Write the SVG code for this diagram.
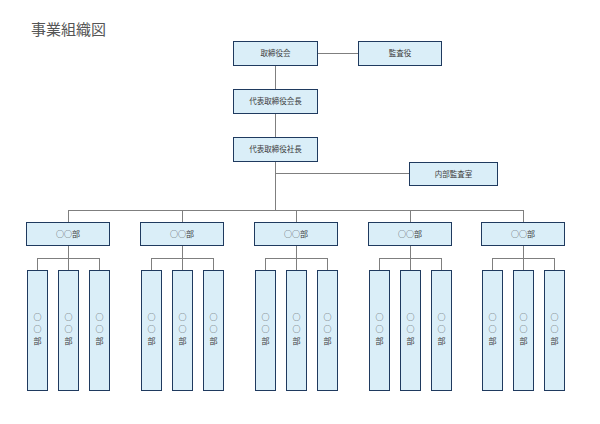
<svg xmlns="http://www.w3.org/2000/svg" width="600" height="424" viewBox="0 0 600 424">
<style>
.b{fill:#DAEEF8;stroke:#1F3A5F;stroke-width:1}
.t{font-family:"Noto Sans CJK JP","Noto Sans",sans-serif;font-size:7.5px;fill:#404040;text-anchor:middle}
.c{font-family:"Noto Sans CJK JP","Noto Sans",sans-serif;font-size:8px;fill:#404040;text-anchor:middle}
.ln{stroke:#7F7F7F;stroke-width:1;fill:none}
</style>
<rect width="600" height="424" fill="#fff"/>
<text x="31" y="35" font-family="'Noto Sans CJK JP',sans-serif" font-size="15" fill="#555">事業組織図</text>
<g id="connectors" class="ln">
<path d="M317 53.5H358M275.5 65V89M275.5 113V137M275.5 162V210M275.5 173.5H409M68 210.5H523.5"/>
<path d="M68.5 210V222M68.5 245V258M37.5 258.5H99.5M37.5 258V270M68.5 258V270M99.5 258V270"/>
<path d="M182.5 210V222M182.5 245V258M151.5 258.5H213.5M151.5 258V270M182.5 258V270M213.5 258V270"/>
<path d="M296.5 210V222M296.5 245V258M265.5 258.5H327.5M265.5 258V270M296.5 258V270M327.5 258V270"/>
<path d="M410.5 210V222M410.5 245V258M379.5 258.5H441.5M379.5 258V270M410.5 258V270M441.5 258V270"/>
<path d="M523.5 210V222M523.5 245V258M492.5 258.5H554.5M492.5 258V270M523.5 258V270M554.5 258V270"/>
</g>
<g id="board"><rect class="b" x="233.5" y="41.5" width="84" height="24"/><text class="t" x="275.5" y="56">取締役会</text></g>
<g id="auditor"><rect class="b" x="358.5" y="41.5" width="83" height="24"/><text class="t" x="400" y="56">監査役</text></g>
<g id="chairman"><rect class="b" x="233.5" y="89.5" width="84" height="24"/><text class="t" x="275.5" y="104">代表取締役会長</text></g>
<g id="president"><rect class="b" x="233.5" y="137.5" width="84" height="24"/><text class="t" x="275.5" y="152">代表取締役社長</text></g>
<g id="internal-audit"><rect class="b" x="409.5" y="162.5" width="88" height="23"/><text class="t" x="453.5" y="177">内部監査室</text></g>
<g id="dept1"><rect class="b" x="26.5" y="222.5" width="83" height="23"/><text class="c" x="68" y="237">○○部</text></g>
<g id="dept2"><rect class="b" x="140.5" y="222.5" width="83" height="23"/><text class="c" x="182" y="237">○○部</text></g>
<g id="dept3"><rect class="b" x="254.5" y="222.5" width="83" height="23"/><text class="c" x="296" y="237">○○部</text></g>
<g id="dept4"><rect class="b" x="368.5" y="222.5" width="83" height="23"/><text class="c" x="410" y="237">○○部</text></g>
<g id="dept5"><rect class="b" x="481.5" y="222.5" width="83" height="23"/><text class="c" x="523" y="237">○○部</text></g>
<g id="d1s1"><rect class="b" x="27.5" y="270.5" width="20" height="120"/><text class="c" x="37.5" y="320">○<tspan x="37.5" dy="12">○</tspan><tspan x="37.5" dy="12">部</tspan></text></g>
<g id="d1s2"><rect class="b" x="58.5" y="270.5" width="20" height="120"/><text class="c" x="68.5" y="320">○<tspan x="68.5" dy="12">○</tspan><tspan x="68.5" dy="12">部</tspan></text></g>
<g id="d1s3"><rect class="b" x="89.5" y="270.5" width="20" height="120"/><text class="c" x="99.5" y="320">○<tspan x="99.5" dy="12">○</tspan><tspan x="99.5" dy="12">部</tspan></text></g>
<g id="d2s1"><rect class="b" x="141.5" y="270.5" width="20" height="120"/><text class="c" x="151.5" y="320">○<tspan x="151.5" dy="12">○</tspan><tspan x="151.5" dy="12">部</tspan></text></g>
<g id="d2s2"><rect class="b" x="172.5" y="270.5" width="20" height="120"/><text class="c" x="182.5" y="320">○<tspan x="182.5" dy="12">○</tspan><tspan x="182.5" dy="12">部</tspan></text></g>
<g id="d2s3"><rect class="b" x="203.5" y="270.5" width="20" height="120"/><text class="c" x="213.5" y="320">○<tspan x="213.5" dy="12">○</tspan><tspan x="213.5" dy="12">部</tspan></text></g>
<g id="d3s1"><rect class="b" x="255.5" y="270.5" width="20" height="120"/><text class="c" x="265.5" y="320">○<tspan x="265.5" dy="12">○</tspan><tspan x="265.5" dy="12">部</tspan></text></g>
<g id="d3s2"><rect class="b" x="286.5" y="270.5" width="20" height="120"/><text class="c" x="296.5" y="320">○<tspan x="296.5" dy="12">○</tspan><tspan x="296.5" dy="12">部</tspan></text></g>
<g id="d3s3"><rect class="b" x="317.5" y="270.5" width="20" height="120"/><text class="c" x="327.5" y="320">○<tspan x="327.5" dy="12">○</tspan><tspan x="327.5" dy="12">部</tspan></text></g>
<g id="d4s1"><rect class="b" x="369.5" y="270.5" width="20" height="120"/><text class="c" x="379.5" y="320">○<tspan x="379.5" dy="12">○</tspan><tspan x="379.5" dy="12">部</tspan></text></g>
<g id="d4s2"><rect class="b" x="400.5" y="270.5" width="20" height="120"/><text class="c" x="410.5" y="320">○<tspan x="410.5" dy="12">○</tspan><tspan x="410.5" dy="12">部</tspan></text></g>
<g id="d4s3"><rect class="b" x="431.5" y="270.5" width="20" height="120"/><text class="c" x="441.5" y="320">○<tspan x="441.5" dy="12">○</tspan><tspan x="441.5" dy="12">部</tspan></text></g>
<g id="d5s1"><rect class="b" x="482.5" y="270.5" width="20" height="120"/><text class="c" x="492.5" y="320">○<tspan x="492.5" dy="12">○</tspan><tspan x="492.5" dy="12">部</tspan></text></g>
<g id="d5s2"><rect class="b" x="513.5" y="270.5" width="20" height="120"/><text class="c" x="523.5" y="320">○<tspan x="523.5" dy="12">○</tspan><tspan x="523.5" dy="12">部</tspan></text></g>
<g id="d5s3"><rect class="b" x="544.5" y="270.5" width="20" height="120"/><text class="c" x="554.5" y="320">○<tspan x="554.5" dy="12">○</tspan><tspan x="554.5" dy="12">部</tspan></text></g>
</svg>
